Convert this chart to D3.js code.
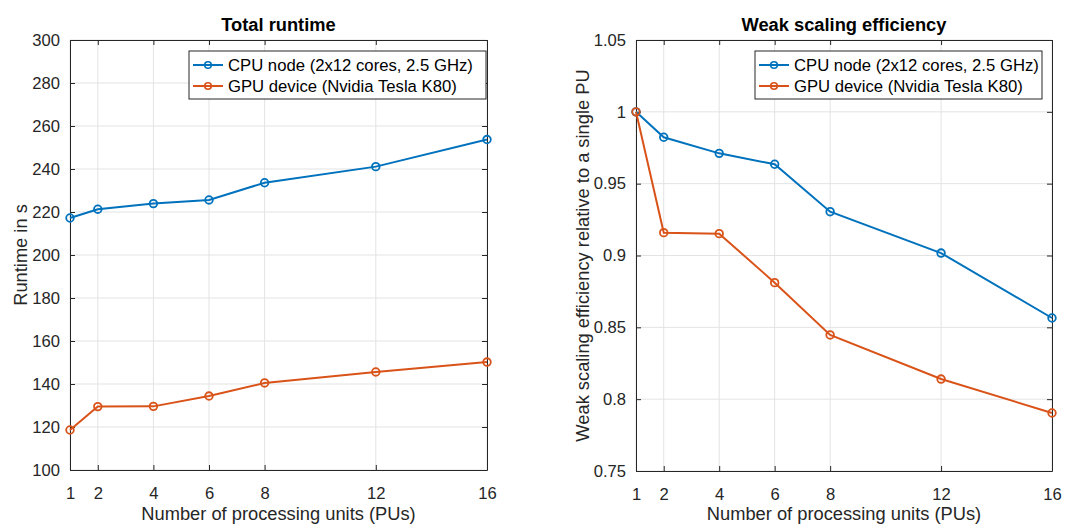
<!DOCTYPE html>
<html><head><meta charset="utf-8">
<script src="https://cdn.jsdelivr.net/npm/d3@7"></script>
<style>body{margin:0;background:#fff;} svg{display:block;font-family:"Liberation Sans",Arial,Helvetica,sans-serif;}</style>
</head><body>
<svg id="c" width="1081" height="527"></svg>
<script>
const pus = [1, 2, 4, 6, 8, 12, 16];
const xTicks = [1, 2, 4, 6, 8, 12, 16];
const runtimeCPU = [217.2, 221.3, 223.9, 225.6, 233.6, 241.1, 253.7];
const runtimeGPU = [118.6, 129.5, 129.6, 134.4, 140.5, 145.6, 150.2];
const effCPU = [1.0, 0.9823, 0.9711, 0.9635, 0.9305, 0.9017, 0.8565];
const effGPU = [1.0, 0.9159, 0.9152, 0.8811, 0.8447, 0.814, 0.7904];
const runtimeTicks = [100,120,140,160,180,200,220,240,260,280,300];
const effTicks = [0.75,0.8,0.85,0.9,0.95,1,1.05];
const seriesNames = ["CPU node (2x12 cores, 2.5 GHz)", "GPU device (Nvidia Tesla K80)"];
const colors = ["#0072BD", "#D95319"];

const svg = d3.select("#c");
const TICKF = 16.6, LABF = 18.3, LEGF = 16.7;

function panel(o) {
  const g = svg.append("g");
  const x = d3.scaleLinear().domain([1,16]).range([o.x0, o.x1]);
  const y = d3.scaleLinear().domain(o.ydom).range([o.y1, o.y0]);
  // grid
  g.append("g").selectAll("line").data(xTicks).join("line")
    .attr("x1", d=>x(d)).attr("x2", d=>x(d)).attr("y1", o.y0).attr("y2", o.y1)
    .attr("stroke", "#e3e3e3").attr("stroke-width", 1);
  g.append("g").selectAll("line").data(o.yticks).join("line")
    .attr("y1", d=>y(d)).attr("y2", d=>y(d)).attr("x1", o.x0).attr("x2", o.x1)
    .attr("stroke", "#e3e3e3").attr("stroke-width", 1);
  // axes
  const axCol = "#262626";
  const bottom = g.append("g").attr("transform", `translate(0,${o.y1})`)
    .call(d3.axisBottom(x).tickValues(xTicks).tickSizeInner(-5).tickSizeOuter(0).tickPadding(17).tickFormat(d3.format("d")));
  const top = g.append("g").attr("transform", `translate(0,${o.y0})`)
    .call(d3.axisTop(x).tickValues(xTicks).tickSizeInner(-5).tickSizeOuter(0).tickFormat(""));
  const left = g.append("g").attr("transform", `translate(${o.x0},0)`)
    .call(d3.axisLeft(y).tickValues(o.yticks).tickSizeInner(-5).tickSizeOuter(0).tickPadding(10).tickFormat(o.fmt));
  const right = g.append("g").attr("transform", `translate(${o.x1},0)`)
    .call(d3.axisRight(y).tickValues(o.yticks).tickSizeInner(-5).tickSizeOuter(0).tickFormat(""));
  [bottom, top, left, right].forEach(a => {
    a.attr("font-size", TICKF).attr("font-family", "Liberation Sans, Arial, sans-serif");
    a.selectAll("path").attr("stroke", axCol).attr("stroke-width", 1);
    a.selectAll("line").attr("stroke", axCol).attr("stroke-width", 1);
    a.selectAll("text").attr("fill", axCol).attr("font-size", TICKF);
  });
  // lines
  const line = d3.line().x((d,i)=>x(pus[i])).y(d=>y(d));
  o.series.forEach((s, k) => {
    g.append("path").datum(s).attr("d", line).attr("fill", "none")
      .attr("stroke", colors[k]).attr("stroke-width", 2);
    g.append("g").selectAll("circle").data(s).join("circle")
      .attr("cx", (d,i)=>x(pus[i])).attr("cy", d=>y(d)).attr("r", 3.8)
      .attr("fill", "none").attr("stroke", colors[k]).attr("stroke-width", 1.8);
  });
  // title
  g.append("text").attr("x", (o.x0+o.x1)/2).attr("y", 31).attr("text-anchor","middle")
    .attr("font-size", LABF).attr("font-weight","bold").attr("fill","#000").text(o.title);
  // x label
  g.append("text").attr("x", (o.x0+o.x1)/2).attr("y", 520).attr("text-anchor","middle")
    .attr("font-size", LABF).attr("fill", axCol).text("Number of processing units (PUs)");
  // y label
  g.append("text").attr("transform", `translate(${o.ylx},${(o.y0+o.y1)/2}) rotate(-90)`)
    .attr("text-anchor","middle").attr("font-size", LABF).attr("fill", axCol).text(o.ylabel);
  // legend
  const L = g.append("g");
  L.append("rect").attr("x", o.lx0).attr("y", 51).attr("width", o.lx1-o.lx0).attr("height", 48)
    .attr("fill","#fff").attr("stroke","#262626").attr("stroke-width",1);
  seriesNames.forEach((n,k) => {
    const yy = 65 + k*21;
    L.append("line").attr("x1", o.lx0+4).attr("x2", o.lx0+34).attr("y1", yy).attr("y2", yy)
      .attr("stroke", colors[k]).attr("stroke-width", 2);
    L.append("circle").attr("cx", o.lx0+19).attr("cy", yy).attr("r", 3.3)
      .attr("fill","none").attr("stroke", colors[k]).attr("stroke-width",1.6);
    L.append("text").attr("x", o.lx0+39).attr("y", yy+6).attr("font-size", LEGF)
      .attr("fill","#000").text(n);
  });
}

panel({x0:70, x1:487, y0:40, y1:470, ydom:[100,300], yticks:runtimeTicks, fmt:d3.format("d"),
  series:[runtimeCPU, runtimeGPU], title:"Total runtime", ylabel:"Runtime in s", ylx:27, lx0:189, lx1:486});
panel({x0:636, x1:1052, y0:40, y1:471, ydom:[0.75,1.05], yticks:effTicks, fmt:d=>String(+d.toFixed(2)),
  series:[effCPU, effGPU], title:"Weak scaling efficiency", ylabel:"Weak scaling efficiency relative to a single PU", ylx:589, lx0:755, lx1:1042});
</script>
</body></html>
